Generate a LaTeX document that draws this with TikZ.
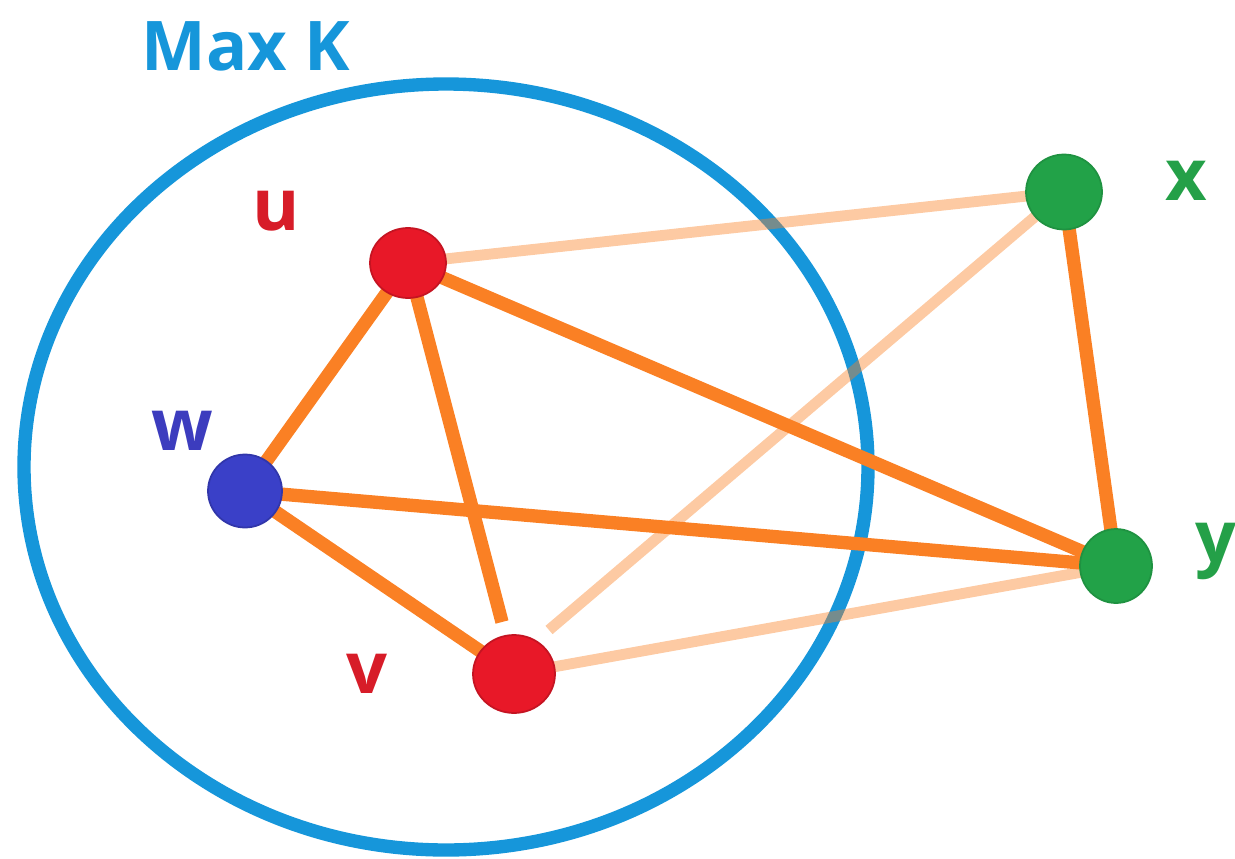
\documentclass[tikz,border=0pt]{standalone}
\usepackage{fontspec}
\setmainfont{Open Sans}
\usetikzlibrary{shapes.geometric}
\definecolor{circblue}{RGB}{22,150,218}
\definecolor{edgeor}{RGB}{250,128,36}
\definecolor{nodered}{RGB}{232,24,40}
\definecolor{nodeblue}{RGB}{58,64,200}
\definecolor{nodegreen}{RGB}{34,162,72}
\definecolor{labred}{RGB}{215,28,40}
\definecolor{labblue}{RGB}{60,60,190}
\definecolor{labgreen}{RGB}{36,160,72}
\tikzset{
  vtx/.style={ellipse, inner sep=0pt, line width=1pt},
  strong/.style={draw=edgeor, line width=7.6pt},
  faint/.style={draw=edgeor, line width=6.2pt, draw opacity=0.42},
  lab/.style={anchor=base, font=\fontsize{41}{48}\selectfont\bfseries, inner sep=0pt},
}
\begin{document}
\begin{tikzpicture}[x=0.02cm,y=-0.02cm]
\useasboundingbox (0,0) rectangle (1235,859);
% vertices (positions)
\coordinate (uc) at (408,263);
\coordinate (wc) at (245,491);
\coordinate (vc) at (514,674);
\coordinate (xc) at (1064,192);
\coordinate (yc) at (1116,566);
\coordinate (uvend) at (502,622);
\coordinate (xvend) at (549,630);
% big set
\node[draw=circblue, line width=7.6pt, ellipse, minimum width=844*0.02cm, minimum height=766*0.02cm, inner sep=0pt] (maxk) at (446,467) {};
\node[lab, text=circblue, font=\fontsize{39}{46}\selectfont\bfseries] (maxklab) at (246,70) {Max K};
% strong edges
\draw[strong] (uc) -- (wc);
\draw[strong] (uc) -- (uvend);
\draw[strong] (uc) -- (yc);
\draw[strong] (wc) -- (yc);
\draw[strong] (wc) -- (vc);
\draw[strong] (xc) -- (yc);
% faint edges
\draw[faint] (uc) -- (xc);
\draw[faint] (xc) -- (xvend);
\draw[faint] (vc) -- (yc);
% nodes
\node[vtx, fill=nodered, draw=nodered!85!black, minimum width=1.52cm, minimum height=1.40cm] (u) at (uc) {};
\node[vtx, fill=nodeblue, draw=nodeblue!85!black, minimum width=1.48cm, minimum height=1.46cm] (w) at (wc) {};
\node[vtx, fill=nodered, draw=nodered!85!black, minimum width=1.64cm, minimum height=1.56cm] (v) at (vc) {};
\node[vtx, fill=nodegreen, draw=nodegreen!90!black, minimum width=1.52cm, minimum height=1.50cm] (x) at (xc) {};
\node[vtx, fill=nodegreen, draw=nodegreen!90!black, minimum width=1.44cm, minimum height=1.48cm] (y) at (yc) {};
% labels
\node[lab, text=labred] (ul) at (276,230) {u};
\node[lab, text=labblue] (wl) at (182,450) {w};
\node[lab, text=labred] (vl) at (367,693) {v};
\node[lab, text=labgreen] (xl) at (1186,200) {x};
\node[lab, text=labgreen] (yl) at (1216,562) {y};
\end{tikzpicture}
\end{document}
